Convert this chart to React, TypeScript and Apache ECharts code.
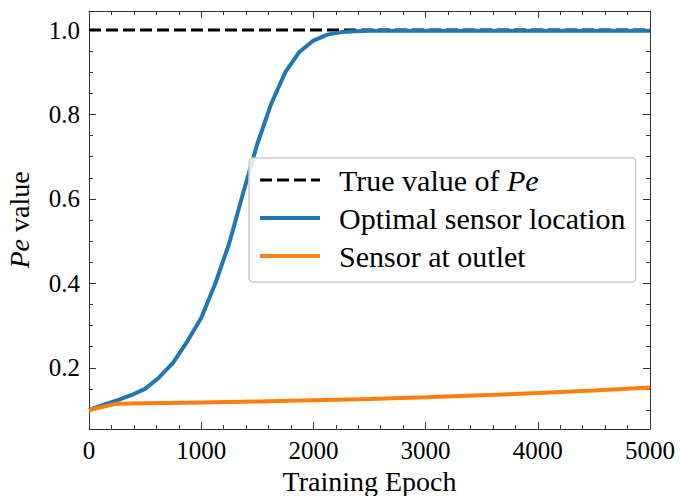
import React, { useEffect, useRef } from "react";
import * as echarts from "echarts";

// Training history of the inferred Péclet number
const blueEpochs = [0, 125, 250, 375, 500, 625, 750, 875, 1000, 1125, 1250, 1375, 1500, 1625, 1750, 1875, 2000, 2125, 2250, 2375, 2500, 3000, 3500, 4000, 4500, 5000];
const blueValues = [0.1, 0.112, 0.123, 0.135, 0.15, 0.177, 0.212, 0.262, 0.318, 0.399, 0.495, 0.615, 0.73, 0.826, 0.9, 0.948, 0.975, 0.989, 0.995, 0.997, 0.998, 0.998, 0.998, 0.998, 0.998, 0.998];

const orangeEpochs = [0, 250, 500, 1000, 1500, 2000, 2500, 3000, 3500, 4000, 4500, 5000];
const orangeValues = [0.1, 0.115, 0.116, 0.118, 0.12, 0.123, 0.126, 0.13, 0.135, 0.14, 0.146, 0.153];

const trueEpochs = [0, 5000];
const trueValues = [1.0, 1.0];

const seriesNames = ["True value of Pe", "Optimal sensor location", "Sensor at outlet"];

const yMajorTicks = [0.2, 0.4, 0.6, 0.8, 1.0];
const yMinorTicks = [0.1, 0.15, 0.25, 0.3, 0.35, 0.45, 0.5, 0.55, 0.65, 0.7, 0.75, 0.85, 0.9, 0.95];

const FONT = "'Liberation Serif', 'DejaVu Serif', serif";
const AXIS_COLOR = "#333";
const Y_MIN = 0.055;
const Y_MAX = 1.045;

const pairs = (xs: number[], ys: number[]) => xs.map((x, i) => [x, ys[i]]);

function xAxisDef(position: "bottom" | "top", withLabels: boolean) {
  return {
    type: "value",
    position,
    min: 0,
    max: 5000,
    interval: 1000,
    name: withLabels ? "Training Epoch" : "",
    nameLocation: "middle",
    nameGap: 37,
    nameTextStyle: { fontFamily: FONT, fontSize: 28, color: "#000" },
    axisLine: { show: true, onZero: false, lineStyle: { color: AXIS_COLOR, width: 1 } },
    axisTick: { show: true, inside: true, length: 7, lineStyle: { color: AXIS_COLOR, width: 1 } },
    minorTick: { show: true, splitNumber: 5, length: 4, lineStyle: { color: AXIS_COLOR, width: 1 } },
    splitLine: { show: false },
    minorSplitLine: { show: false },
    axisLabel: {
      show: withLabels,
      margin: 9,
      formatter: (v: number) => String(v),
      fontFamily: FONT,
      fontSize: 25,
      color: "#000",
    },
  };
}

function yAxisDef(position: "left" | "right", major: boolean, withLabels: boolean) {
  return {
    type: "value",
    position,
    min: Y_MIN,
    max: Y_MAX,
    name: withLabels ? "{i|Pe} value" : "",
    nameLocation: "middle",
    nameGap: 56,
    nameTextStyle: {
      fontFamily: FONT,
      fontSize: 28,
      color: "#000",
      rich: { i: { fontFamily: FONT, fontSize: 28, fontStyle: "italic", color: "#000" } },
    },
    axisLine: { show: major, onZero: false, lineStyle: { color: AXIS_COLOR, width: 1 } },
    axisTick: {
      show: true,
      inside: true,
      length: major ? 7 : 4,
      customValues: major ? yMajorTicks : yMinorTicks,
      lineStyle: { color: AXIS_COLOR, width: 1 },
    },
    splitLine: { show: false },
    axisLabel: {
      show: withLabels,
      margin: 9,
      customValues: yMajorTicks,
      formatter: (v: number) => v.toFixed(1),
      fontFamily: FONT,
      fontSize: 25,
      color: "#000",
    },
  };
}

export default function App() {
  const ref = useRef<HTMLDivElement>(null);

  useEffect(() => {
    if (!ref.current) return;
    const chart = echarts.init(ref.current, null, { renderer: "svg" });

    const legendWidths = [3, 4, 4];
    const option = {
      animation: false,
      backgroundColor: "#fff",
      grid: { left: 89, right: 30, top: 11, bottom: 67, containLabel: false, outerBoundsMode: "none" },
      xAxis: [xAxisDef("bottom", true), xAxisDef("top", false)],
      yAxis: [
        yAxisDef("left", true, true),
        yAxisDef("left", false, false),
        yAxisDef("right", true, false),
        yAxisDef("right", false, false),
      ],
      legend: {
        orient: "vertical",
        left: 249,
        top: 158,
        data: seriesNames.map((name, i) => ({
          name,
          lineStyle: { width: legendWidths[i] },
        })),
        itemWidth: 60,
        itemHeight: 14,
        itemGap: 8,
        itemStyle: { opacity: 0 },
        padding: [7, 10, 11, 9],
        backgroundColor: "rgba(255,255,255,0.85)",
        borderColor: "#cccccc",
        borderWidth: 1.5,
        borderRadius: 4,
        selectedMode: false,
        formatter: (name: string) =>
          name.endsWith(" Pe") ? "{r|" + name.slice(0, -2) + "}{i|Pe}" : "{r|" + name + "}",
        textStyle: {
          fontFamily: FONT,
          fontSize: 30,
          lineHeight: 30,
          color: "#000",
          padding: [0, 0, 0, 14],
          rich: {
            r: { fontFamily: FONT, fontSize: 30, color: "#000" },
            i: { fontFamily: FONT, fontSize: 30, fontStyle: "italic", color: "#000" },
          },
        },
      },
      series: [
        {
          name: seriesNames[0],
          type: "line",
          data: pairs(trueEpochs, trueValues),
          symbol: "none",
          lineStyle: { color: "#000", width: 3, type: [12, 5] },
          itemStyle: { color: "#000" },
          z: 2,
        },
        {
          name: seriesNames[1],
          type: "line",
          data: pairs(blueEpochs, blueValues),
          symbol: "none",
          lineStyle: { color: "#1f77b4", width: 4 },
          itemStyle: { color: "#1f77b4" },
          z: 3,
        },
        {
          name: seriesNames[2],
          type: "line",
          data: pairs(orangeEpochs, orangeValues),
          symbol: "none",
          lineStyle: { color: "#ff7f0e", width: 4 },
          itemStyle: { color: "#ff7f0e" },
          z: 4,
        },
      ],
    };

    chart.setOption(option as any);
    return () => chart.dispose();
  }, []);

  return (
    <div
      ref={ref}
      style={{ position: "fixed", left: 0, top: 0, width: 680, height: 496, background: "#fff" }}
    />
  );
}
